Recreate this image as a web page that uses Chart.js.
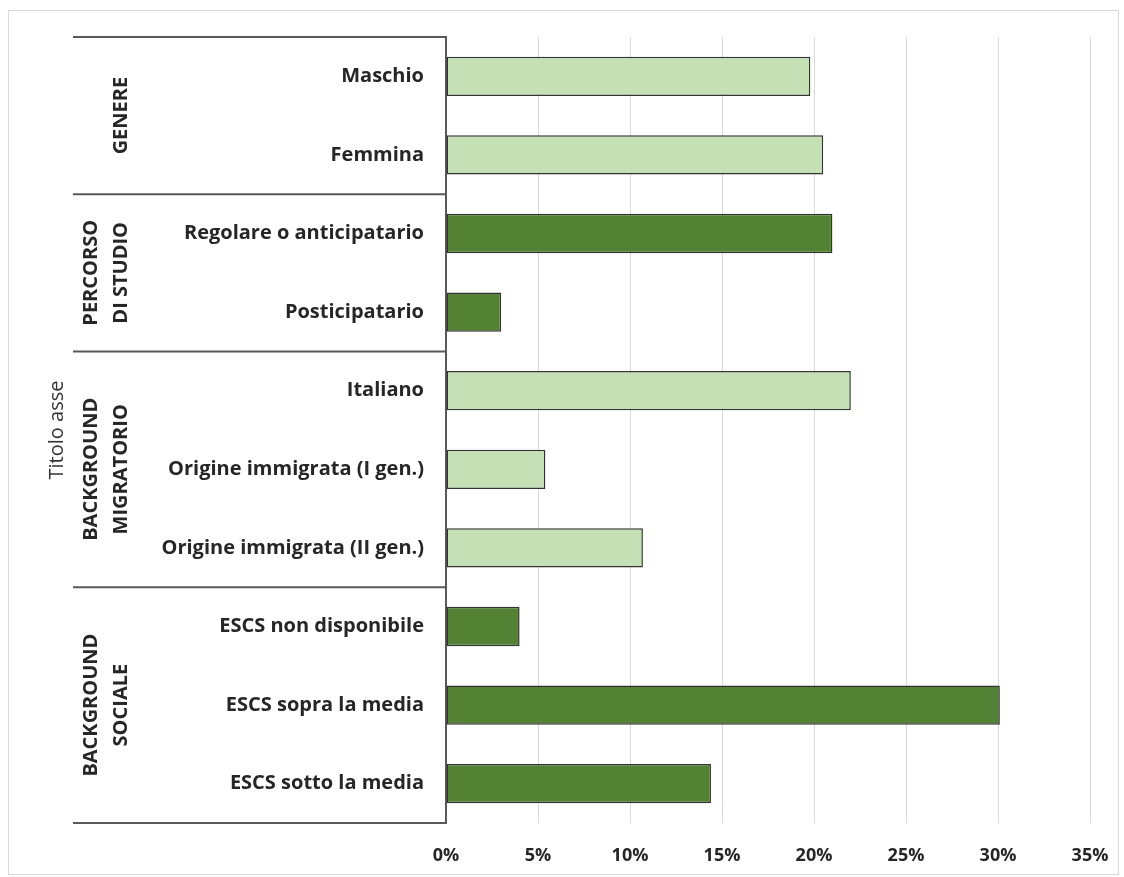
<!DOCTYPE html>
<html>
<head>
<meta charset="utf-8">
<script src="https://cdn.jsdelivr.net/npm/chart.js@4"></script>
<style>
    html, body { margin: 0; padding: 0; background: #fff; }
    #wrap { width: 1124px; height: 877px; position: relative; }
</style>
</head>
<body>
<div id="wrap"><canvas id="chart"></canvas></div>
<script>
// Categories (top to bottom)
const categories = [
    'Maschio', 'Femmina',
    'Regolare o anticipatario', 'Posticipatario',
    'Italiano', 'Origine immigrata (I gen.)', 'Origine immigrata (II gen.)',
    'ESCS non disponibile', 'ESCS sopra la media', 'ESCS sotto la media'
];

// Share, per category
const values = [0.198, 0.205, 0.210, 0.030, 0.220, 0.054, 0.107, 0.040, 0.301, 0.144];

// Groups: label lines and how many categories each one spans
const groupLabels = [['GENERE'], ['PERCORSO', 'DI STUDIO'], ['BACKGROUND', 'MIGRATORIO'], ['BACKGROUND', 'SOCIALE']];
const groupSizes = [2, 2, 3, 3];

const axisTitle = 'Titolo asse';
const xTicks = [0, 0.05, 0.10, 0.15, 0.20, 0.25, 0.30, 0.35];

const LIGHT = '#c5e0b4';
const DARK = '#548235';
const groupColors = [LIGHT, DARK, LIGHT, DARK];

// colour per bar comes from its group
const barColors = [];
groupSizes.forEach((n, g) => { for (let i = 0; i < n; i++) barColors.push(groupColors[g]); });

const FONT = '"Open Sans", "DejaVu Sans", sans-serif';
const LEFT_LINE = 73;

// Draws group separators, group labels, axis title and the outer frame
const groupPlugin = {
    id: 'groups',
    beforeDraw(chart) {
        const ctx = chart.ctx;
        ctx.save();
        ctx.strokeStyle = '#d9d9d9';
        ctx.lineWidth = 1;
        ctx.strokeRect(8.5, 10.5, chart.width - 14, chart.height - 13);
        ctx.restore();
    },
    afterDraw(chart) {
        const ctx = chart.ctx;
        const y = chart.scales.y;
        const right = chart.chartArea.left;
        ctx.save();
        ctx.strokeStyle = '#595959';
        ctx.lineWidth = 2;

        let start = 0;
        const bounds = [y.getPixelForValue(-0.5)];
        groupSizes.forEach(n => {
            start += n;
            bounds.push(y.getPixelForValue(start - 0.5));
        });
        bounds.forEach(py => {
            ctx.beginPath();
            ctx.moveTo(LEFT_LINE, py);
            ctx.lineTo(right, py);
            ctx.stroke();
        });

        // group labels, rotated
        ctx.fillStyle = '#262626';
        ctx.font = 'bold 20px ' + FONT;
        ctx.textAlign = 'center';
        ctx.textBaseline = 'middle';
        groupLabels.forEach((lines, g) => {
            const cy = (bounds[g] + bounds[g + 1]) / 2;
            lines.forEach((txt, i) => {
                const cx = 121 - (lines.length - 1 - i) * 30;
                ctx.save();
                ctx.translate(cx, cy);
                ctx.rotate(-Math.PI / 2);
                ctx.fillText(txt, 0, 0);
                ctx.restore();
            });
        });

        // axis title
        ctx.font = '20px ' + FONT;
        ctx.fillStyle = '#333333';
        ctx.save();
        ctx.translate(57, (chart.chartArea.top + chart.chartArea.bottom) / 2);
        ctx.rotate(-Math.PI / 2);
        ctx.fillText(axisTitle, 0, 0);
        ctx.restore();
        ctx.restore();
    }
};

new Chart(document.getElementById('chart'), {
    type: 'bar',
    data: {
        labels: categories,
        datasets: [{
            data: values,
            backgroundColor: barColors,
            borderColor: '#333333',
            borderWidth: 1.5,
            borderSkipped: false,
            categoryPercentage: 1,
            barPercentage: 0.5
        }]
    },
    options: {
        indexAxis: 'y',
        responsive: true,
        maintainAspectRatio: false,
        animation: false,
        layout: { padding: { top: 37, right: 34, left: 0, bottom: 0 } },
        plugins: {
            legend: { display: false },
            tooltip: { enabled: false }
        },
        scales: {
            x: {
                min: 0,
                max: 0.35,
                afterBuildTicks: (scale) => { scale.ticks = xTicks.map(v => ({ value: v })); },
                afterFit: (scale) => {
                    scale.height = 54;
                    scale.paddingLeft = 0;
                    scale.paddingRight = 0;
                },
                grid: { color: '#d9d9d9', lineWidth: 1, drawTicks: false },
                border: { display: false },
                ticks: {
                    padding: 22,
                    color: '#262626',
                    font: { family: FONT, size: 18, weight: 'bold' },
                    callback: (v) => Math.round(v * 100) + '%'
                }
            },
            y: {
                afterFit: (scale) => { scale.width = 446; },
                grid: { display: false },
                border: { display: true, color: '#595959', width: 2 },
                ticks: {
                    padding: 14,
                    color: '#262626',
                    font: { family: FONT, size: 20, weight: 'bold' }
                }
            }
        }
    },
    plugins: [groupPlugin]
});
</script>
</body>
</html>
